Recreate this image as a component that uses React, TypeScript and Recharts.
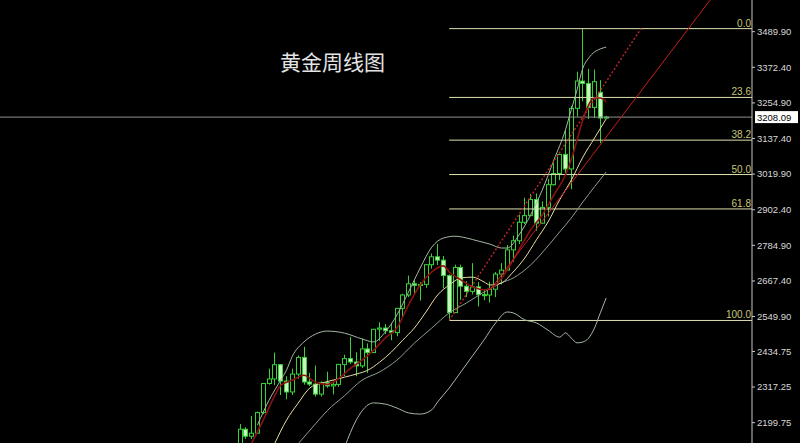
import React from "react";
import { ComposedChart, Bar, Line, XAxis, YAxis, ReferenceLine } from "recharts";

// weekly candles, 2024-03-04 .. 2025-05-19
const weeks = [
  "2024-03-04", "2024-03-11", "2024-03-18", "2024-03-25", "2024-04-01", "2024-04-08", "2024-04-15", "2024-04-22",
  "2024-04-29", "2024-05-06", "2024-05-13", "2024-05-20", "2024-05-27", "2024-06-03", "2024-06-10", "2024-06-17",
  "2024-06-24", "2024-07-01", "2024-07-08", "2024-07-15", "2024-07-22", "2024-07-29", "2024-08-05", "2024-08-12",
  "2024-08-19", "2024-08-26", "2024-09-02", "2024-09-09", "2024-09-16", "2024-09-23", "2024-09-30", "2024-10-07",
  "2024-10-14", "2024-10-21", "2024-10-28", "2024-11-04", "2024-11-11", "2024-11-18", "2024-11-25", "2024-12-02",
  "2024-12-09", "2024-12-16", "2024-12-23", "2024-12-30", "2025-01-06", "2025-01-13", "2025-01-20", "2025-01-27",
  "2025-02-03", "2025-02-10", "2025-02-17", "2025-02-24", "2025-03-03", "2025-03-10", "2025-03-17", "2025-03-24",
  "2025-03-31", "2025-04-07", "2025-04-14", "2025-04-21", "2025-04-28", "2025-05-05", "2025-05-12", "2025-05-19",
];

const opens = [
  2083, 2178, 2155, 2165, 2233, 2329, 2344, 2391, 2337, 2301, 2360, 2415, 2334, 2327, 2294, 2332,
  2321, 2326, 2392, 2411, 2400, 2387, 2443, 2431, 2508, 2512, 2503, 2497, 2577, 2621, 2658, 2653,
  2656, 2721, 2747, 2736, 2685, 2563, 2712, 2650, 2633, 2648, 2622, 2621, 2640, 2690, 2703, 2770,
  2800, 2861, 2883, 2936, 2858, 2910, 2985, 3022, 3085, 3037, 3237, 3327, 3319, 3240, 3290, 3205,
];
const highs = [
  2195, 2185, 2222, 2236, 2330, 2378, 2431, 2393, 2353, 2378, 2422, 2450, 2364, 2388, 2336, 2368,
  2339, 2393, 2424, 2483, 2432, 2477, 2461, 2509, 2531, 2525, 2529, 2578, 2625, 2685, 2670, 2664,
  2722, 2758, 2790, 2750, 2689, 2721, 2721, 2666, 2726, 2664, 2638, 2665, 2697, 2726, 2786, 2817,
  2886, 2942, 2955, 2956, 2930, 3004, 3057, 3087, 3167, 3245, 3358, 3500, 3367, 3365, 3330, 3212,
];
const lows = [
  2079, 2146, 2146, 2163, 2228, 2325, 2324, 2291, 2277, 2291, 2345, 2325, 2320, 2286, 2286, 2315,
  2293, 2318, 2354, 2393, 2353, 2380, 2364, 2430, 2470, 2492, 2472, 2485, 2546, 2614, 2625, 2603,
  2645, 2708, 2720, 2643, 2537, 2561, 2605, 2614, 2623, 2583, 2604, 2596, 2614, 2656, 2700, 2730,
  2789, 2855, 2881, 2833, 2857, 2880, 2982, 3000, 3015, 2970, 3210, 3260, 3202, 3205, 3122, 3203,
];
const closes = [
  2178, 2155, 2165, 2233, 2329, 2344, 2391, 2337, 2301, 2360, 2415, 2334, 2327, 2294, 2332, 2321,
  2326, 2392, 2411, 2400, 2387, 2443, 2431, 2508, 2512, 2503, 2497, 2577, 2621, 2658, 2653, 2656,
  2721, 2747, 2736, 2685, 2563, 2712, 2650, 2633, 2648, 2622, 2621, 2640, 2690, 2703, 2770, 2800,
  2861, 2883, 2936, 2858, 2910, 2985, 3022, 3085, 3037, 3237, 3327, 3319, 3240, 3325, 3205, 3208,
];

// indicator lines: [week index, value]
const upperBand = [
  [3, 2192], [5, 2274], [7, 2340], [8, 2373], [9, 2419], [11, 2466], [13, 2492], [15, 2502], [18, 2495],
  [21, 2476], [23, 2466], [25, 2499], [27, 2555], [29, 2631], [31, 2710], [33, 2779], [35, 2809], [37, 2815],
  [39, 2809], [41, 2799], [43, 2789], [45, 2776], [46, 2776], [48, 2819], [50, 2885], [52, 2967], [54, 3066],
  [56, 3166], [57, 3232], [58, 3298], [59, 3370], [60, 3403], [61, 3423], [62, 3433], [63, 3439],
];
const midBand = [
  [10, 2130], [13, 2196], [15, 2239], [18, 2289], [21, 2340], [24, 2367], [27, 2406], [30, 2462], [33, 2512],
  [36, 2562], [39, 2595], [42, 2631], [45, 2661], [47, 2677], [50, 2720], [53, 2783], [55, 2829], [57, 2875],
  [59, 2928], [61, 2978], [63, 3027],
];
const lowerBand = [
  [18, 2119], [20, 2208], [22, 2258], [23, 2265], [25, 2261], [27, 2248], [29, 2232], [31, 2228], [33, 2242],
  [34, 2268], [36, 2314], [38, 2367], [40, 2420], [42, 2473], [44, 2529], [46, 2565], [47, 2562], [49, 2539],
  [51, 2529], [53, 2505], [55, 2482], [56, 2496], [57, 2479], [58, 2463], [59, 2466], [60, 2479], [61, 2512],
  [62, 2562], [63, 2611],
];
const ma10 = [
  [6, 2132], [8, 2208], [10, 2264], [12, 2314], [14, 2330], [16, 2340], [18, 2350], [20, 2360], [22, 2373],
  [24, 2399], [26, 2432], [28, 2472], [30, 2512], [32, 2565], [34, 2621], [36, 2654], [38, 2677], [40, 2680],
  [42, 2664], [43, 2654], [45, 2661], [47, 2697], [49, 2743], [51, 2803], [53, 2862], [55, 2935], [57, 3000],
  [59, 3076], [61, 3139], [63, 3202],
];
const ma5 = [
  [2, 2132], [4, 2208], [6, 2290], [7, 2323], [9, 2340], [11, 2356], [13, 2333], [15, 2326], [17, 2346],
  [19, 2379], [21, 2406], [23, 2439], [25, 2479], [27, 2512], [29, 2588], [31, 2654], [33, 2697], [35, 2717],
  [36, 2697], [38, 2671], [40, 2648], [42, 2638], [44, 2654], [46, 2704], [48, 2770], [50, 2836], [52, 2885],
  [54, 2951], [56, 3017], [57, 3067], [58, 3133], [59, 3199], [61, 3271], [62, 3271], [63, 3258],
];

const fibLabels = ["0.0", "23.6", "38.2", "50.0", "61.8", "100.0"];
const fibValues = [3500, 3273, 3132, 3018.5, 2905, 2537];
const fibStart = 36;

const yTicks = [3489.9, 3372.4, 3254.9, 3137.4, 3019.9, 2902.4, 2784.9, 2667.4, 2549.9, 2434.75, 2317.25, 2199.75];
const lastPrice = 3208.09;
const title = "黄金周线图";

const lookup = (pairs: number[][]) => {
  const m: Record<number, number> = {};
  pairs.forEach(([i, v]) => (m[i] = v));
  return m;
};
const U = lookup(upperBand), M = lookup(midBand), L = lookup(lowerBand), A10 = lookup(ma10), A5 = lookup(ma5);

const data = weeks.map((w, i) => ({
  i,
  week: w,
  open: opens[i],
  high: highs[i],
  low: lows[i],
  close: closes[i],
  upper: U[i] ?? null,
  mid: M[i] ?? null,
  lower: L[i] ?? null,
  ma10: A10[i] ?? null,
  ma5: A5[i] ?? null,
}));

const GREEN = "#38d238";

const Candle = (props: any) => {
  const { x, y, width, height, payload } = props;
  if (payload == null || height == null) return null;
  const { open, close, high, low } = payload;
  const h = Math.abs(height);
  const top0 = height < 0 ? y + height : y;
  const cx = Math.round(x + width / 2) + 0.5;
  const k = h / (high - low || 1);
  const bTop = top0 + (high - Math.max(open, close)) * k;
  const bBot = top0 + (high - Math.min(open, close)) * k;
  const bull = close >= open;
  return (
    <g>
      <line x1={cx} x2={cx} y1={top0} y2={top0 + h} stroke={GREEN} strokeWidth={1} />
      <rect
        x={cx - 2}
        y={bTop}
        width={4}
        height={Math.max(bBot - bTop, 1)}
        fill={bull ? "#000" : "#c8f5c0"}
        stroke={GREEN}
        strokeWidth={1}
      />
    </g>
  );
};

const FibLabel = (props: any) => {
  const { viewBox, text } = props;
  if (!viewBox) return null;
  return (
    <text x={viewBox.x + viewBox.width - 1} y={viewBox.y - 2} textAnchor="end" fill="#c8c878" fontSize={10}>
      {text}
    </text>
  );
};

const PriceLabel = (props: any) => {
  const { viewBox } = props;
  if (!viewBox) return null;
  const x = viewBox.x + viewBox.width + 3;
  return (
    <g>
      <rect x={x} y={viewBox.y - 6} width={43} height={12} fill="#fff" />
      <text x={x + 2} y={viewBox.y + 3.5} fill="#000" fontSize={9.5}>
        {lastPrice.toFixed(2)}
      </text>
    </g>
  );
};

export default function App() {
  return (
    <div
      style={{
        position: "absolute",
        left: 0,
        top: 0,
        width: 800,
        height: 443,
        background: "#000",
        fontFamily: "'Liberation Sans', Arial, sans-serif",
        overflow: "hidden",
      }}
    >
      <ComposedChart width={800} height={443} data={data} margin={{ top: 0, right: 0, left: 0, bottom: 0 }}>
        <XAxis dataKey="i" type="number" domain={[-41.3, 88.1]} hide allowDataOverflow />
        <YAxis
          orientation="right"
          width={48}
          domain={[2132.6, 3594.5]}
          allowDataOverflow
          ticks={yTicks}
          interval={0}
          tickFormatter={(v: number) => v.toFixed(2)}
          tick={{ fill: "#d8d8d8", fontSize: 9.5 }}
          axisLine={{ stroke: "#c8c8c8" }}
          tickLine={{ stroke: "#c8c8c8" }}
          tickSize={3}
        />
        {fibValues.map((v, k) => (
          <ReferenceLine
            key={fibLabels[k]}
            segment={[{ x: fibStart, y: v }, { x: 88.1, y: v }]}
            stroke="#e0e0b0"
            strokeWidth={1}
            ifOverflow="hidden"
            label={<FibLabel text={fibLabels[k]} />}
          />
        ))}
        <ReferenceLine y={lastPrice} stroke="#909090" strokeWidth={1} label={<PriceLabel />} />
        <Line dataKey="upper" type="monotone" connectNulls dot={false} stroke="#a4b8a4" strokeWidth={1} isAnimationActive={false} />
        <Line dataKey="mid" type="monotone" connectNulls dot={false} stroke="#8ca08c" strokeWidth={1} isAnimationActive={false} />
        <Line dataKey="lower" type="monotone" connectNulls dot={false} stroke="#a4b8a4" strokeWidth={1} isAnimationActive={false} />
        <Line dataKey="ma10" type="monotone" connectNulls dot={false} stroke="#e8dca0" strokeWidth={1} isAnimationActive={false} />
        <Line dataKey="ma5" type="monotone" connectNulls dot={false} stroke="#8c1212" strokeWidth={1.6} isAnimationActive={false} />
        <ReferenceLine
          segment={[{ x: 43, y: 2637 }, { x: 80.9, y: 3594.5 }]}
          stroke="#c81e1e"
          strokeWidth={1}
          ifOverflow="hidden"
        />
        <ReferenceLine
          segment={[{ x: 36, y: 2537 }, { x: 69, y: 3500 }]}
          stroke="#b82424"
          strokeWidth={1.5}
          strokeDasharray="2 2"
          ifOverflow="hidden"
        />
        <Bar
          dataKey={(d: any) => [d.low, d.high]}
          barSize={5}
          shape={<Candle />}
          isAnimationActive={false}
        />
      </ComposedChart>
      <div
        style={{
          position: "absolute",
          left: 280,
          top: 47,
          color: "#e4e4e4",
          fontSize: 21,
          fontFamily: "'Noto Sans CJK SC', sans-serif",
          lineHeight: "28px",
          whiteSpace: "nowrap",
        }}
      >
        {title}
      </div>
    </div>
  );
}
